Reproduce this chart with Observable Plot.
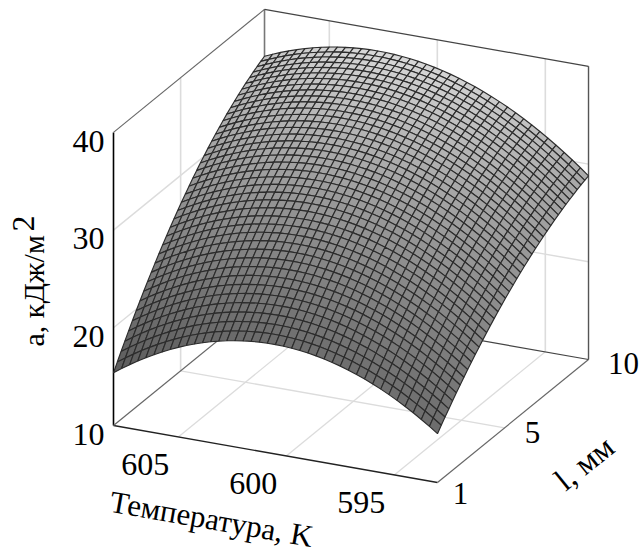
<!DOCTYPE html>
<html>
<head>
<meta charset="utf-8">
<script src="https://cdn.jsdelivr.net/npm/d3@7"></script>
<script src="https://cdn.jsdelivr.net/npm/@observablehq/plot@0.6"></script>
<style>html,body{margin:0;padding:0;background:#fff}svg{display:block}</style>
</head>
<body>
<div id="chart"></div>
<script>
// Surface heights and cell greys at these knots only.
// The fine mesh cells between knots are a smooth parabolic curve through them, not read values.
const tempKnots = [608, 600.5, 593];
const lenKnots = [1, 5.5, 10];
const zAtL1    = [15.4, 21.2, 15.0];
const zAtL5    = [28.2, 31.7, 23.9];
const zAtL10   = [35.2, 37.3, 28.8];
const greyAtL1 = [92, 108, 108];
const greyAtL5 = [150, 162, 145];
const greyAtL10 = [196, 216, 168];
const zTicks = [10, 20, 30, 40];
const tempTicks = [605, 600, 595];
const lenTicks = [1, 5, 10];
const zTickLabels = ["10", "20", "30", "40"];
const meshCells = 40;
const tempRange = [608, 593];
const lenRange = [1, 10];
const zRange = [10, 40];

const zRows = [zAtL1, zAtL5, zAtL10];
const greyRows = [greyAtL1, greyAtL5, greyAtL10];

// Oblique view of the box
const view = {ox: 113, oy: 425, tx: 21.6, ty: 3.8, lx: 16.78, ly: -13.67, zy: -9.77};
const px = (T, l) => view.ox + (tempRange[0] - T) * view.tx + (l - 1) * view.lx;
const py = (T, l, z) => view.oy + (tempRange[0] - T) * view.ty + (l - 1) * view.ly + (z - 10) * view.zy;

function lagrange(xs, ys, x) {
  let s = 0;
  xs.forEach((xi, i) => {
    let w = 1;
    xs.forEach((xj, j) => { if (j !== i) w *= (x - xj) / (xi - xj); });
    s += w * ys[i];
  });
  return s;
}
const through = (rows, T, l) => lagrange(lenKnots, rows.map(r => lagrange(tempKnots, r, T)), l);

const meshT = d3.range(meshCells + 1).map(i => tempRange[0] + (tempRange[1] - tempRange[0]) * i / meshCells);
const meshL = d3.range(meshCells + 1).map(i => lenRange[0] + (lenRange[1] - lenRange[0]) * i / meshCells);

const cellPts = [];
let id = 0;
for (let j = meshCells - 1; j >= 0; j--) {
  for (let i = 0; i < meshCells; i++) {
    const g = Math.round(through(greyRows, (meshT[i] + meshT[i + 1]) / 2, (meshL[j] + meshL[j + 1]) / 2));
    const fill = `rgb(${g},${g},${g})`;
    for (const [a, b] of [[i, j], [i + 1, j], [i + 1, j + 1], [i, j + 1]]) {
      const T = meshT[a], l = meshL[b];
      cellPts.push({cell: id, fill, x: px(T, l), y: py(T, l, through(zRows, T, l))});
    }
    id++;
  }
}

const [T0, T1] = tempRange, [L0, L1] = lenRange, [Z0, Z1] = zRange;
const seg = (a, b, stroke, w) => ({x1: px(a[0], a[1]), y1: py(a[0], a[1], a[2]), x2: px(b[0], b[1]), y2: py(b[0], b[1], b[2]), stroke, w});

const grid = [
  ...zTicks.slice(1, 3).flatMap(z => [seg([T0, L0, z], [T0, L1, z], "#dcdcdc", 1.4), seg([T0, L1, z], [T1, L1, z], "#dcdcdc", 1.4)]),
  ...tempTicks.flatMap(t => [seg([t, L0, Z0], [t, L1, Z0], "#dcdcdc", 1.3), seg([t, L1, Z0], [t, L1, Z1], "#dcdcdc", 1.6)]),
  seg([T0, 5, Z0], [T1, 5, Z0], "#dcdcdc", 1.3),
  seg([T0, 5, Z0], [T0, 5, Z1], "#dcdcdc", 1.6)
];
const frame = [
  seg([T0, L0, Z0], [T0, L0, Z1], "#000", 1.6),
  seg([T0, L0, Z0], [T1, L0, Z0], "#222", 1.3),
  seg([T1, L0, Z0], [T1, L1, Z0], "#666", 1.2),
  seg([T0, L0, Z0], [T0, L1, Z0], "#666", 1.2),
  seg([T0, L1, Z0], [T1, L1, Z0], "#444", 1.2),
  seg([T0, L1, Z0], [T0, L1, Z1], "#777", 1.6),
  seg([T1, L1, Z0], [T1, L1, Z1], "#555", 1.4),
  seg([T0, L0, Z1], [T0, L1, Z1], "#666", 1.1),
  seg([T0, L1, Z1], [T1, L1, Z1], "#444", 1.2)
];

const serif = "Liberation Serif";
const zLabels = zTicks.map((z, i) => ({text: zTickLabels[i], x: px(T0, L0) - 9, y: py(T0, L0, z) + 9}));
const tLabels = tempTicks.map(t => ({text: String(t), x: px(t, L0) - 33, y: py(t, L0, Z0) + 28}));
const lLabelShift = [[23, 12], [28, 5], [35, 5]];
const lLabels = lenTicks.map((l, i) => ({text: String(l), x: px(T1, l) + lLabelShift[i][0], y: py(T1, l, Z0) + lLabelShift[i][1]}));

const chart = Plot.plot({
  width: 641, height: 556, margin: 0,
  x: {domain: [0, 641], range: [0, 641], axis: null},
  y: {domain: [0, 556], range: [0, 556], axis: null},
  style: {background: "#fff", overflow: "visible"},
  marks: [
    Plot.link(grid, {x1: "x1", y1: "y1", x2: "x2", y2: "y2", stroke: "stroke", strokeWidth: "w"}),
    Plot.link(frame, {x1: "x1", y1: "y1", x2: "x2", y2: "y2", stroke: "stroke", strokeWidth: "w"}),
    Plot.line(cellPts, {x: "x", y: "y", z: "cell", fill: "fill", stroke: "#2c2c2c", strokeWidth: 1.15, curve: "linear-closed", strokeLinejoin: "miter"}),
    Plot.text(zLabels, {x: "x", y: "y", text: "text", textAnchor: "end", lineAnchor: "middle", fontSize: 32, fontFamily: serif, fill: "#000"}),
    Plot.text(tLabels, {x: "x", y: "y", text: "text", lineAnchor: "middle", fontSize: 32, fontFamily: serif, fill: "#000"}),
    Plot.text(lLabels, {x: "x", y: "y", text: "text", textAnchor: "middle", lineAnchor: "middle", fontSize: 31, fontFamily: serif, fill: "#000"}),
    Plot.text(["Температура, K"], {x: () => 211, y: () => 519, text: d => d, rotate: 10, fontSize: 31, fontFamily: serif, fill: "#000"}),
    Plot.text(["l, мм"], {x: () => 584, y: () => 463, text: d => d, rotate: -39, fontSize: 32, fontFamily: serif, fill: "#000"}),
    Plot.text(["а, кДж/м"], {x: () => 43, y: () => 346, text: d => d, rotate: -90, textAnchor: "start", lineAnchor: "bottom", fontSize: 30, fontFamily: serif, fill: "#000"}),
    Plot.text(["2"], {x: () => 33, y: () => 231, text: d => d, rotate: -90, textAnchor: "start", lineAnchor: "bottom", fontSize: 32, fontFamily: serif, fill: "#000"})
  ]
});
document.getElementById("chart").appendChild(chart);
</script>
</body>
</html>
